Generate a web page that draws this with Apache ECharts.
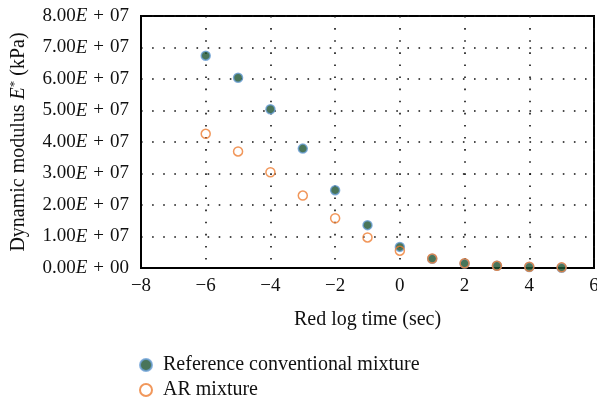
<!DOCTYPE html>
<html><head><meta charset="utf-8">
<script src="https://cdn.jsdelivr.net/npm/echarts@6/dist/echarts.min.js"></script>
<style>html,body{margin:0;padding:0;background:#fff}#c{width:597px;height:404px}</style>
</head><body><div id="c"></div>
<script>
var times = [-6, -5, -4, -3, -2, -1, 0, 1, 2, 3, 4, 5];
var refValues = [6.74e7, 6.04e7, 5.04e7, 3.79e7, 2.47e7, 1.36e7, 0.67e7, 0.29e7, 0.14e7, 0.07e7, 0.03e7, 0.01e7];
var arValues = [4.26e7, 3.70e7, 3.04e7, 2.30e7, 1.58e7, 0.97e7, 0.55e7, 0.30e7, 0.15e7, 0.07e7, 0.04e7, 0.02e7];
var seriesNames = ['Reference conventional mixture', 'AR mixture'];
var xLabel = 'Red log time (sec)';

var serif = '"Liberation Serif", "DejaVu Serif", serif';
var FS = 19, FT = 20;
function pairs(v){ return times.map(function(t,i){ return [t, v[i]]; }); }
function legendAt(name, top){
  return { orient: 'horizontal', left: 134, top: top, itemWidth: 12, itemHeight: 12, icon: 'circle',
    textStyle: { fontFamily: serif, fontSize: FT, color: '#111', padding: [0,0,0,6] }, data: [name] };
}

var chart = echarts.init(document.getElementById('c'));
chart.setOption({
  animation: false,
  backgroundColor: '#fff',
  grid: { left: 141, right: 3, top: 16, bottom: 136, containLabel: false, outerBoundsMode: 'none',
          show: true, borderColor: '#000', borderWidth: 2 },
  legend: [ legendAt(seriesNames[0], 350), legendAt(seriesNames[1], 375) ],
  xAxis: {
    type: 'value', min: -8, max: 6, interval: 2,
    name: xLabel, nameLocation: 'middle', nameGap: 42,
    nameTextStyle: { fontFamily: serif, fontSize: FT, color: '#111' },
    axisLine: { show: true, onZero: false, lineStyle: { color: '#000', width: 2 } },
    axisTick: { show: false },
    axisLabel: { fontFamily: serif, fontSize: FS, color: '#111', margin: 9,
      formatter: function(v){ return String(v).replace('-', '\u2212'); } },
    splitLine: { show: true, lineStyle: { color: '#111', width: 1.6, type: [1.6, 10.5] } }
  },
  yAxis: {
    type: 'value', min: 0, max: 8e7, interval: 1e7,
    name: '{a|Dynamic modulus }{e|E}{s|*}{a| (kPa)}', nameLocation: 'middle', nameGap: 111,
    nameTextStyle: { fontFamily: serif, fontSize: FT, color: '#111',
      rich: { a: { fontFamily: serif, fontSize: FT, color: '#111' },
              e: { fontFamily: serif, fontSize: FT, fontStyle: 'italic', color: '#111' },
              s: { fontFamily: serif, fontSize: 13, color: '#111', padding: [0, 0, 9, 0] } } },
    axisLine: { show: true, onZero: false, lineStyle: { color: '#000', width: 2 } },
    axisTick: { show: false },
    axisLabel: { margin: 12, color: '#111', align: 'right',
      formatter: function(v){
        var m = v / 1e7; var ex = v === 0 ? '00' : '07';
        return '{n|' + m.toFixed(2) + '}{e|E}{p|+}{n|' + ex + '}';
      },
      rich: { n: { fontFamily: serif, fontSize: FS, color: '#111' },
              e: { fontFamily: serif, fontSize: FS, fontStyle: 'italic', color: '#111' },
              p: { fontFamily: serif, fontSize: FS, color: '#111', padding: [0, 6, 0, 6] } } },
    splitLine: { show: true, lineStyle: { color: '#111', width: 1.6, type: [1.6, 9.5] } }
  },
  series: [
    { name: seriesNames[0], type: 'scatter', data: pairs(refValues), symbol: 'circle', symbolSize: 9,
      itemStyle: { color: '#1c5230', borderColor: '#6a9fd6', borderWidth: 1.5 } },
    { name: seriesNames[1], type: 'scatter', data: pairs(arValues), symbol: 'circle', symbolSize: 9,
      itemStyle: { color: 'rgba(255,255,255,0)', borderColor: '#ee7d32', borderWidth: 1.5 } }
  ]
});
</script></body></html>
